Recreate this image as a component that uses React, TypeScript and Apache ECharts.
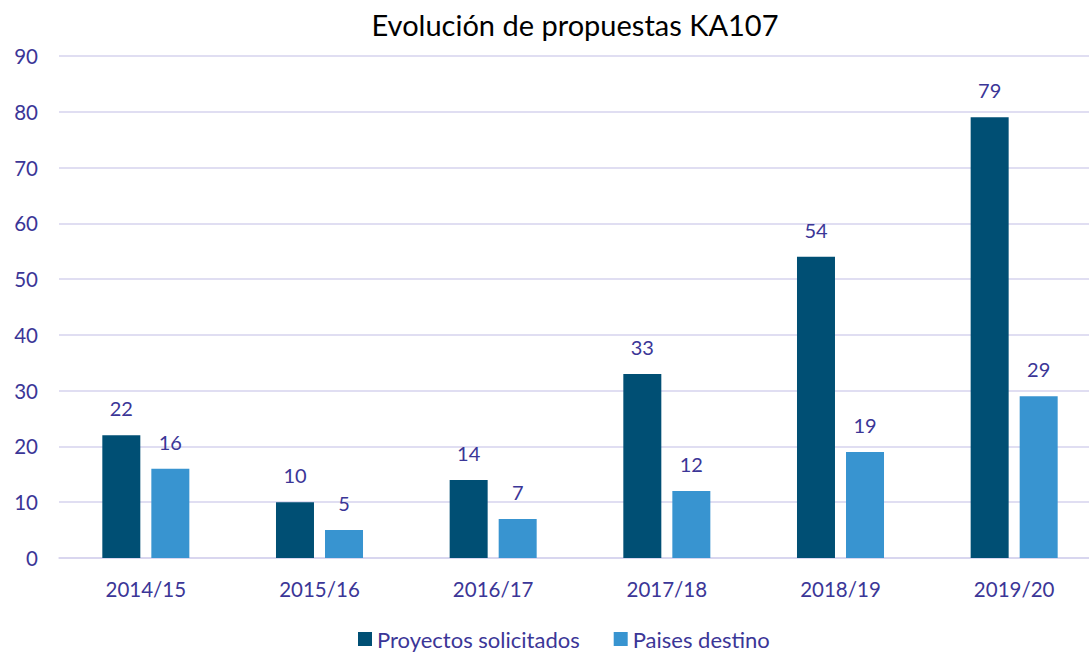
import React, { useEffect, useRef } from "react";
import * as echarts from "echarts";

const categories = ["2014/15", "2015/16", "2016/17", "2017/18", "2018/19", "2019/20"];
const proyectos = [22, 10, 14, 33, 54, 79];
const paises = [16, 5, 7, 12, 19, 29];
const seriesNames = ["Proyectos solicitados", "Paises destino"];

const TEXT = "#3b3697";
const FONT = "Lato, 'Open Sans', sans-serif";

export default function App() {
  const ref = useRef<HTMLDivElement>(null);
  useEffect(() => {
    const chart = echarts.init(ref.current!, null, { renderer: "svg" });
    const label = {
      show: true,
      position: "top" as const,
      distance: 17,
      color: TEXT,
      fontSize: 20,
      fontFamily: FONT,
    };
    chart.setOption({
      animation: false,
      title: {
        text: "Evolución de propuestas KA107",
        left: 570,
        textAlign: "center",
        top: 5,
        textStyle: { color: "#000", fontSize: 29, fontWeight: "normal", fontFamily: FONT },
      },
      grid: { left: 59, right: 9, top: 56, bottom: 97, containLabel: false },
      legend: {
        bottom: 0,
        left: 353,
        itemWidth: 14,
        itemHeight: 14,
        itemGap: 34,
        icon: "rect",
        textStyle: { color: TEXT, fontSize: 22, fontFamily: FONT },
        data: seriesNames,
      },
      xAxis: {
        type: "category",
        data: categories,
        axisLine: { lineStyle: { color: "#d6d3ee", width: 1.5 } },
        axisTick: { show: false },
        axisLabel: { color: TEXT, fontSize: 20.5, fontFamily: FONT, margin: 20 },
      },
      yAxis: {
        type: "value",
        min: 0,
        max: 90,
        interval: 10,
        axisLine: { show: false },
        axisTick: { show: false },
        axisLabel: { color: TEXT, fontSize: 20.5, fontFamily: FONT, margin: 21 },
        splitLine: { lineStyle: { color: "#d6d3ee", width: 1.5 } },
      },
      series: [
        {
          name: seriesNames[0],
          type: "bar",
          data: proyectos,
          barWidth: 38,
          barGap: "29%",
          itemStyle: { color: "#004f74" },
          label,
        },
        {
          name: seriesNames[1],
          type: "bar",
          data: paises,
          barWidth: 38,
          itemStyle: { color: "#3894d0" },
          label,
        },
      ],
    });
    return () => chart.dispose();
  }, []);
  return (
    <div
      style={{
        position: "fixed",
        left: 0,
        top: 0,
        width: 1089,
        height: 655,
        overflow: "hidden",
        background: "#fff",
      }}
    >
      <div ref={ref} style={{ width: 1110, height: 655 }} />
    </div>
  );
}
